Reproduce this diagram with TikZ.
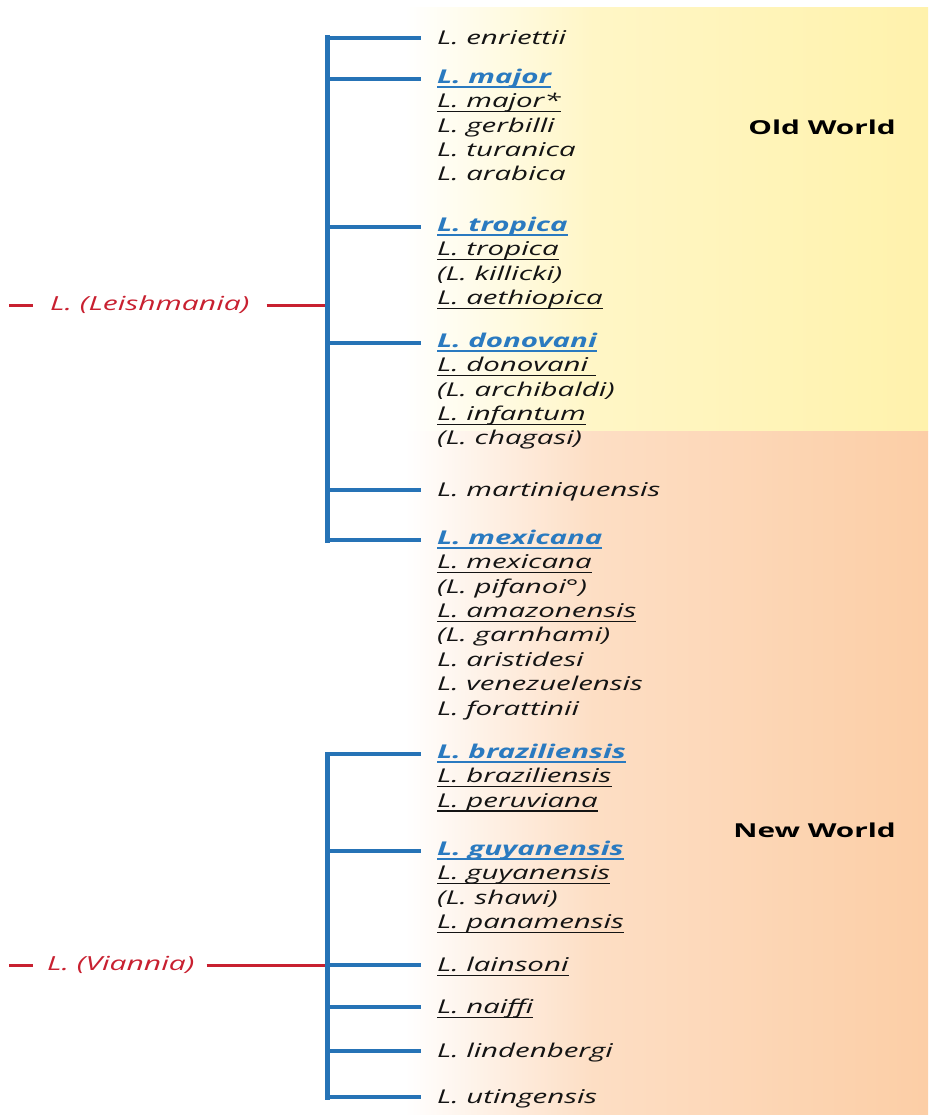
\documentclass[tikz,border=0pt]{standalone}
\usepackage{fontspec}
\setmainfont{Open Sans}[FakeStretch=1.55]
\usetikzlibrary{positioning}

\definecolor{txt}{RGB}{20,20,20}
\definecolor{treeblue}{RGB}{38,115,182}
\definecolor{hdblue}{RGB}{42,122,192}
\definecolor{rootred}{RGB}{200,32,48}
\definecolor{oldyel}{RGB}{255,242,172}
\definecolor{oldyelmid}{RGB}{255,246,198}
\definecolor{neworg}{RGB}{252,206,166}
\definecolor{neworgmid}{RGB}{253,222,196}

\pgfdeclarehorizontalshading{oldworld}{100bp}{color(0bp)=(white); color(25bp)=(white);
  color(43bp)=(oldyelmid); color(75bp)=(oldyel); color(100bp)=(oldyel)}
\pgfdeclarehorizontalshading{newworld}{100bp}{color(0bp)=(white); color(25bp)=(white);
  color(43bp)=(neworgmid); color(75bp)=(neworg); color(100bp)=(neworg)}

% underlined names
\newsavebox{\ulbox}
\newcommand{\us}[2][1.2pt]{\sbox{\ulbox}{#2}\rlap{\rule[-4.4pt]{\wd\ulbox}{#1}}\usebox{\ulbox}}
\newcommand{\hd}[1]{\textcolor{hdblue}{\bfseries\us[1.5pt]{#1}}}

\begin{document}
\begin{tikzpicture}[
  x=1pt, y=-1pt,
  every node/.style={inner sep=0pt},
  sp/.style={font=\fontsize{19}{24.4}\selectfont\itshape, text=txt, align=left,
    anchor=north west, yshift=10.3pt, execute at begin node=\strut},
  root/.style={font=\fontsize{19.4}{24}\selectfont\itshape, text=rootred, anchor=west},
  world/.style={font=\fontsize{19.2}{24}\selectfont\bfseries, text=black, anchor=east},
  tree/.style={draw=treeblue, line width=5pt, line cap=rect},
  branch/.style={draw=treeblue, line width=4pt, shorten >=16pt},
  rline/.style={draw=rootred, line width=3pt}]
  \useasboundingbox (0,0) rectangle (928,1115);

  % background: old world / new world
  \shade[shading=oldworld] (405,8) rectangle (928,431);
  \shade[shading=newworld] (405,431) rectangle (928,1115);
  \node[world] (old) at (896,127) {Old World};
  \node[world] (new) at (896,830) {New World};

  % subgenus L. (Leishmania)
  \node[root] (leish) at (50,305) {L. (Leishmania)};
  \coordinate (lstub) at (9,305);
  \coordinate (ljoin) at (327,305);
  \draw[rline] (lstub) -- ([xshift=-17pt]leish.west);
  \draw[rline] ([xshift=17pt]leish.east) -- (ljoin);

  \coordinate (jEnr) at (327,38);
  \coordinate (jMaj) at (327,79);
  \coordinate (jTro) at (327,227);
  \coordinate (jDon) at (327,343);
  \coordinate (jMar) at (327,490);
  \coordinate (jMex) at (327,540);
  \node[sp] (enr) at (437,38) {L. enriettii};
  \node[sp] (maj) at (437,79) {\hd{L. major}\\ \us{L. major*}\\ L. gerbilli\\ L. turanica\\ L. arabica};
  \node[sp] (tro) at (437,227) {\hd{L. tropica}\\ \us{L. tropica}\\ (L. killicki)\\ \us{L. aethiopica}};
  \node[sp] (don) at (437,343) {\hd{L. donovani}\\ \us{L. donovani\ }\\ (L. archibaldi)\\ \us{L. infantum}\\ (L. chagasi)};
  \node[sp] (mar) at (437,490) {L. martiniquensis};
  \node[sp] (mex) at (437,540) {\hd{L. mexicana}\\ \us{L. mexicana}\\ (L. pifanoi°)\\ \us{L. amazonensis}\\
    (L. garnhami)\\ L. aristidesi\\ L. venezuelensis\\ L. forattinii};
  \draw[tree] (jEnr) -- (jMex);
  \draw[branch] (jEnr) -- (jEnr -| enr.west);
  \draw[branch] (jMaj) -- (jMaj -| maj.west);
  \draw[branch] (jTro) -- (jTro -| tro.west);
  \draw[branch] (jDon) -- (jDon -| don.west);
  \draw[branch] (jMar) -- (jMar -| mar.west);
  \draw[branch] (jMex) -- (jMex -| mex.west);

  % subgenus L. (Viannia)
  \node[root] (vian) at (47,965) {L. (Viannia)};
  \coordinate (vstub) at (9,965);
  \coordinate (vjoin) at (327,965);
  \draw[rline] (vstub) -- ([xshift=-14pt]vian.west);
  \draw[rline] ([xshift=12pt]vian.east) -- (vjoin);

  \coordinate (jBra) at (327,754);
  \coordinate (jGuy) at (327,851);
  \coordinate (jLai) at (327,965);
  \coordinate (jNai) at (327,1007);
  \coordinate (jLin) at (327,1051);
  \coordinate (jUti) at (327,1097);
  \node[sp] (bra) at (437,754) {\hd{L. braziliensis}\\ \us{L. braziliensis}\\ \us{L. peruviana}};
  \node[sp] (guy) at (437,851) {\hd{L. guyanensis}\\ \us{L. guyanensis}\\ (L. shawi)\\ \us{L. panamensis}};
  \node[sp] (lai) at (437,965) {\us{L. lainsoni}};
  \node[sp] (nai) at (437,1007) {\us{L. naiffi}};
  \node[sp] (lin) at (437,1051) {L. lindenbergi};
  \node[sp] (uti) at (437,1097) {L. utingensis};
  \draw[tree] (jBra) -- (jUti);
  \draw[branch] (jBra) -- (jBra -| bra.west);
  \draw[branch] (jGuy) -- (jGuy -| guy.west);
  \draw[branch] (jLai) -- (jLai -| lai.west);
  \draw[branch] (jNai) -- (jNai -| nai.west);
  \draw[branch] (jLin) -- (jLin -| lin.west);
  \draw[branch] (jUti) -- (jUti -| uti.west);
\end{tikzpicture}
\end{document}
